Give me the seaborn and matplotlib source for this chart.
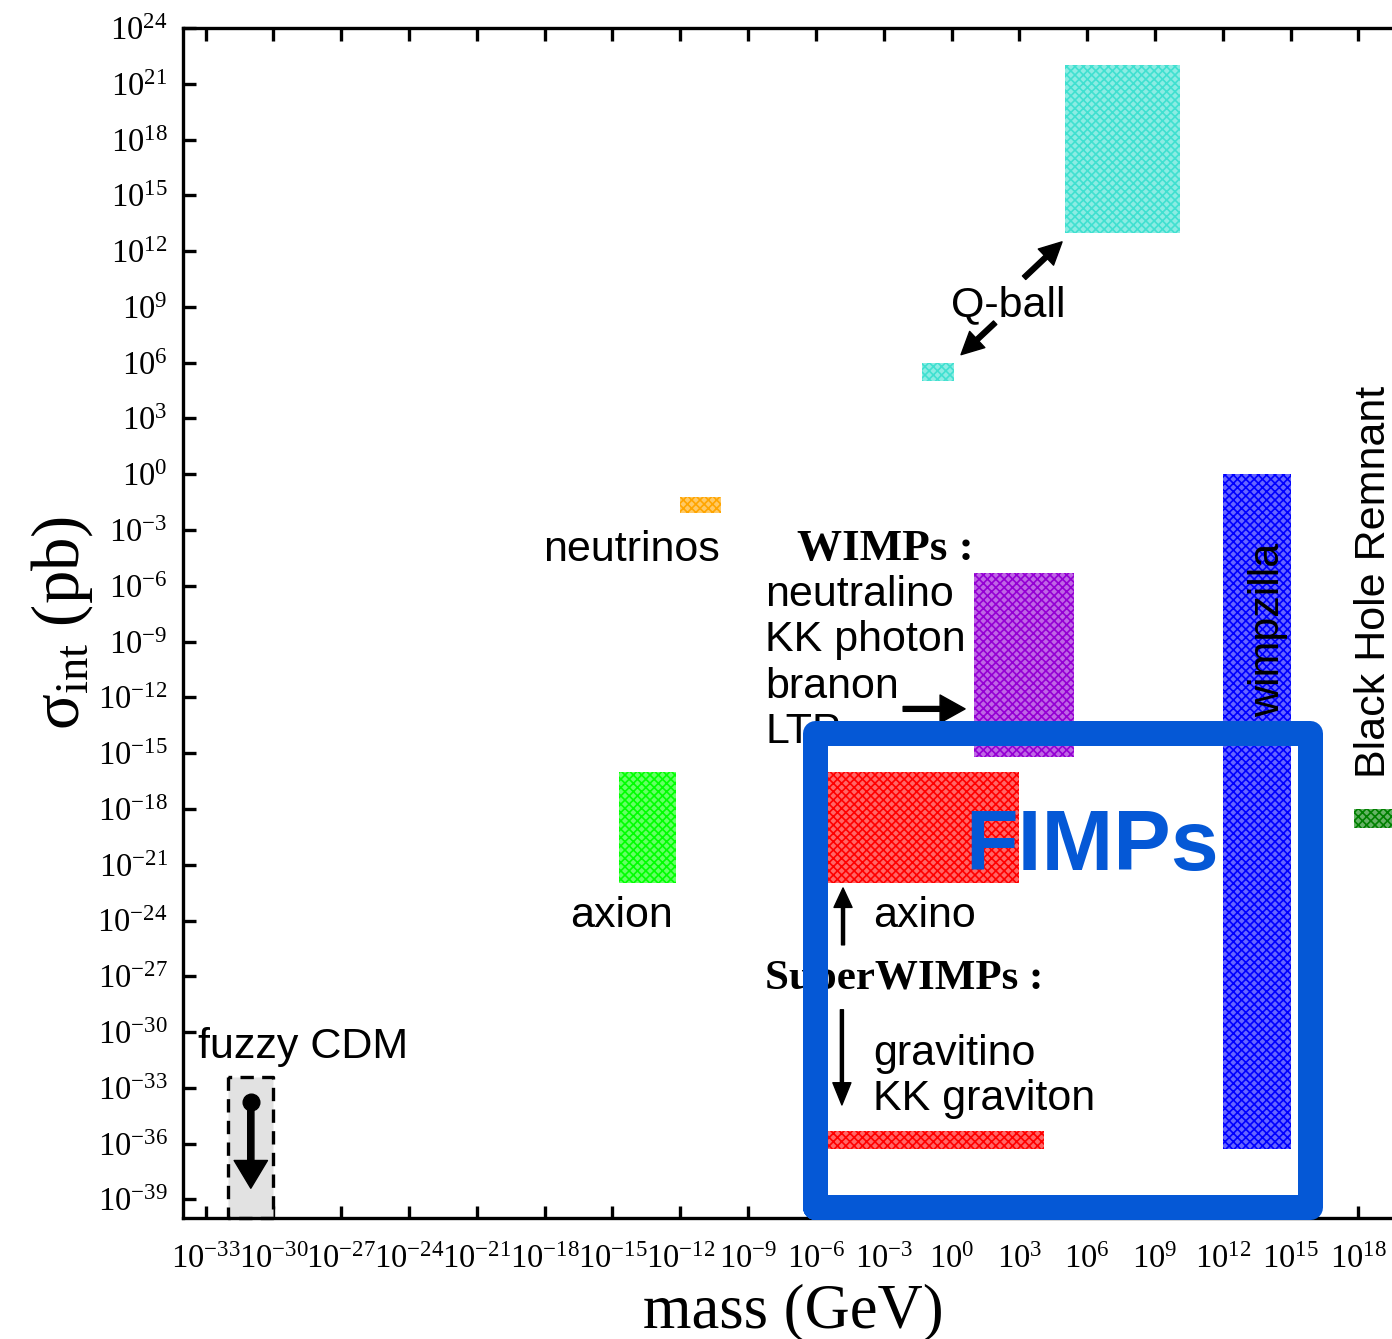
import matplotlib
matplotlib.use('Agg')
import matplotlib.pyplot as plt
import numpy as np
import seaborn as sns
from matplotlib.ticker import FixedLocator, FixedFormatter, NullLocator
from matplotlib.colors import to_rgb

sns.set_theme(style='ticks')
plt.rcParams['font.family'] = ['Liberation Sans', 'DejaVu Sans']
plt.rcParams['mathtext.fontset'] = 'custom'
plt.rcParams['mathtext.rm'] = 'Liberation Serif'
plt.rcParams['mathtext.it'] = 'Liberation Serif:italic'
plt.rcParams['mathtext.bf'] = 'Liberation Serif:bold'
plt.rcParams['hatch.linewidth'] = 1.2

# log10 of box corners: mass (GeV) and cross section (pb)
candidates = ['fuzzy CDM', 'neutrinos', 'axion', 'Q-ball light', 'Q-ball heavy',
              'WIMPs', 'axino', 'gravitino', 'wimpzilla', 'Black Hole Remnant']
mass_lo = [-32, -12, -14.7, -1.3, 5, 1, -5.7, -5.7, 12, 17.8]
mass_hi = [-30, -10.2, -12.2, 0.1, 10.1, 5.4, 3, 4.1, 15, 20]
sigma_lo = [-40, -2.1, -22, 5, 13, -15.2, -22, -36.3, -36.3, -19]
sigma_hi = [-32.4, -1.2, -16, 6, 22, -5.3, -16, -35.3, 0, -18]
box_colors = ['#e2e2e2', '#ffa500', '#00ff00', '#40e0d0', '#40e0d0',
              '#9400d3', '#ff0000', '#ff0000', '#0000ff', '#008000']

x_exp = list(range(-33, 19, 3))
y_exp = list(range(-39, 25, 3))


def p(e):
    return 10.0 ** e


fig = plt.figure(figsize=(13.92, 13.39), dpi=100)
ax = fig.add_axes([183/1392, 121/1339, 1220.6/1392, 1190/1339])
ax.set_xscale('log')
ax.set_yscale('log')
ax.set_xlim(1e-34, 1e20)
ax.set_ylim(1e-40, 1e24)


def lighten(c, f=0.4):
    r = np.array(to_rgb(c))
    return tuple(r + (1 - r) * f)


for name, m0, m1, s0, s1, c in zip(candidates, mass_lo, mass_hi, sigma_lo, sigma_hi, box_colors):
    xs = [p(m0), p(m1)]
    if name == 'fuzzy CDM':
        ax.fill_between(xs, p(s0), p(s1), facecolor=c, edgecolor='black',
                        linestyle=(0, (4, 2.5)), linewidth=2.4, zorder=2, clip_on=False)
    else:
        ax.fill_between(xs, p(s0), p(s1), facecolor=lighten(c), edgecolor=c,
                        hatch='xxxx', linewidth=0, zorder=2)

# fuzzy CDM arrow
ax.plot(p(-31), p(-33.76), 'o', ms=12, color='black', zorder=4)
ax.annotate('', xy=(p(-31), p(-38.4)), xytext=(p(-31), p(-33.8)),
            arrowprops=dict(width=4.5, headwidth=24, headlength=20, shrink=0,
                            facecolor='black', edgecolor='black'), zorder=4)

lab = dict(fontsize=31, color='black')
ax.text(p(-33.34), p(-31.39), 'fuzzy CDM', ha='left', va='baseline', **lab)
ax.text(p(-14.62), p(-24.33), 'axion', ha='center', va='baseline', **lab)
ax.text(p(-14.18), p(-4.66), 'neutrinos', ha='center', va='baseline', **lab)
ax.text(p(2.5), p(8.52), 'Q-ball', ha='center', va='baseline', **lab)

bold_serif = dict(family='Liberation Serif', fontweight='bold', color='black')
ax.text(p(-6.83), p(-4.6), 'WIMPs :', ha='left', va='baseline', fontsize=32.5, **bold_serif)
for txt, sy in zip(['neutralino', 'KK photon', 'branon', 'LTP'], [-7.11, -9.53, -12.04, -14.46]):
    ax.text(p(-8.25), p(sy), txt, ha='left', va='baseline', **lab)

ax.text(p(-3.47), p(-24.33), 'axino', ha='left', va='baseline', **lab)
ax.text(p(-8.25), p(-27.68), 'SuperWIMPs :', ha='left', va='baseline', fontsize=31, **bold_serif)
ax.text(p(-3.47), p(-31.77), 'gravitino', ha='left', va='baseline', **lab)
ax.text(p(-3.47), p(-34.19), 'KK graviton', ha='left', va='baseline', **lab)
ax.text(p(14.0), p(-8.37), 'wimpzilla', ha='center', va='center', rotation=90, zorder=6, **lab)
ax.text(p(18.7), p(-5.81), 'Black Hole Remnant', ha='center', va='center', rotation=90, **lab)


def arrow(tail, head, w=3.5, hw=16, hl=16):
    ax.annotate('', xy=(p(head[0]), p(head[1])), xytext=(p(tail[0]), p(tail[1])),
                arrowprops=dict(width=w, headwidth=hw, headlength=hl, shrink=0,
                                facecolor='black', edgecolor='black'), zorder=4)


arrow((3.21, 10.57), (4.89, 12.5))
arrow((1.93, 8.15), (0.42, 6.43))
arrow((-2.14, -12.62), (0.6, -12.62), w=3.5, hw=20, hl=18)
arrow((-4.8, -25.31), (-4.8, -22.25), w=2.2, hw=13, hl=14)
arrow((-4.85, -28.8), (-4.85, -33.92), w=2.2, hw=13, hl=16)

# FIMPs frame
blue = '#0558d6'
fx = [p(-6.04), p(15.87)]
fy = [p(-39.4), p(-13.91)]
ax.plot([fx[0], fx[1], fx[1], fx[0], fx[0]], [fy[0], fy[0], fy[1], fy[1], fy[0]],
        color=blue, lw=18, solid_joinstyle='round', solid_capstyle='round',
        zorder=7, clip_on=False)
ax.text(p(0.6), p(-21.28), 'FIMPs', ha='left', va='baseline', fontsize=62,
        fontweight='bold', color=blue, zorder=8)

# axes styling
for side in ['left', 'bottom', 'top']:
    ax.spines[side].set_linewidth(2.4)
    ax.spines[side].set_color('black')
ax.spines['right'].set_visible(False)
ax.xaxis.set_major_locator(FixedLocator([p(e) for e in x_exp]))
ax.xaxis.set_major_formatter(FixedFormatter([f'$\\mathrm{{10^{{{e}}}}}$' for e in x_exp]))
ax.yaxis.set_major_locator(FixedLocator([p(e) for e in y_exp]))
ax.yaxis.set_major_formatter(FixedFormatter([f'$\\mathrm{{10^{{{e}}}}}$' for e in y_exp]))
ax.xaxis.set_minor_locator(NullLocator())
ax.yaxis.set_minor_locator(NullLocator())
ax.tick_params(axis='x', which='major', direction='in', top=True, bottom=True,
               length=9, width=2.4, labelsize=23.5, pad=19, colors='black')
ax.tick_params(axis='y', which='major', direction='in', left=True, right=False,
               length=9, width=2.4, labelsize=23.5, pad=11, colors='black')
ax.grid(False)

ax.set_xlabel('mass (GeV)', fontsize=45, family='Liberation Serif', color='black', labelpad=6)
ax.set_ylabel('σ$_{\\mathrm{int}}$ (pb)', fontsize=48, family='Liberation Serif', color='black')
ax.yaxis.set_label_coords(-0.072, 0.5)

fig.savefig('out.png', dpi=100)
